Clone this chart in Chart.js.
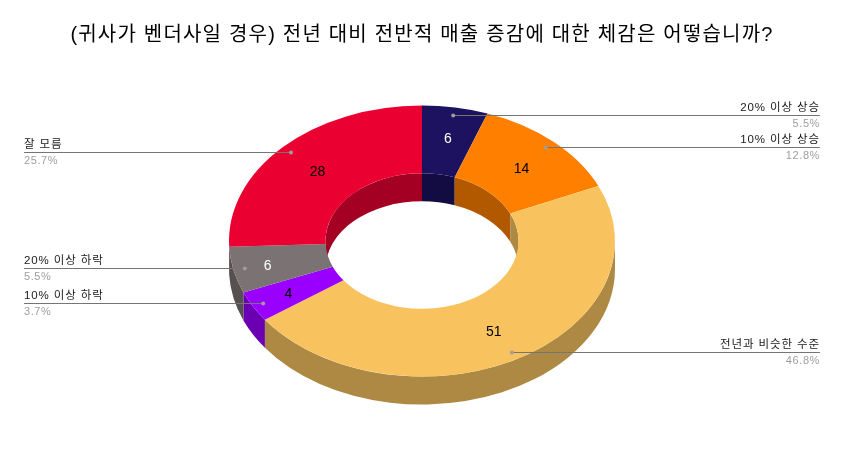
<!DOCTYPE html>
<html>
<head>
<meta charset="utf-8">
<style>
  html, body { margin: 0; padding: 0; background: #fff; }
  canvas { display: block; }
</style>
<script src="https://cdn.jsdelivr.net/npm/chart.js@4/dist/chart.umd.min.js"></script>
</head>
<body>
<canvas id="chart" width="844" height="472"></canvas>
<script>
const titleText = '(귀사가 벤더사일 경우) 전년 대비 전반적 매출 증감에 대한 체감은 어떻습니까?';
const categories = ['20% 이상 상승', '10% 이상 상승', '전년과 비슷한 수준', '10% 이상 하락', '20% 이상 하락', '잘 모름'];
const responses = [6, 14, 51, 4, 6, 28];
const sliceColors = ['#1c1260', '#ff7f00', '#f8c35f', '#9900ff', '#7b7373', '#eb0032'];
const wallColors = ['#130c43', '#b25900', '#ae8943', '#6b00b3', '#565050', '#a40023'];
const valueColors = ['#fff', '#000', '#000', '#000', '#fff', '#000'];
// 값 글자 위치 미세 조정 [x, y]
const valueNudges = [[1, -2], [1, 3], [0, 3], [-7, 4], [-13, 3], [0, 1]];

const FONT = '"Liberation Sans", "Noto Sans CJK KR", sans-serif';
const CENTER_Y = 241;
const RADIUS = 193;
const TILT = 0.702;
const DEPTH = 28;

// 납작한 타원으로 보이도록 y 좌표 변환
function flatY(y, arc) {
    return CENTER_Y + (y - arc.y) * TILT;
}

function drawWall(ctx, arc, r, color, from, to) {
    const a = Math.max(arc.startAngle, from);
    const b = Math.min(arc.endAngle, to);
    if (b <= a) return;
    ctx.beginPath();
    ctx.ellipse(arc.x, CENTER_Y, r, r * TILT, 0, a, b, false);
    ctx.ellipse(arc.x, CENTER_Y + DEPTH, r, r * TILT, 0, b, a, true);
    ctx.closePath();
    ctx.fillStyle = color;
    ctx.fill();
}

const pie3d = {
    id: 'pie3d',
    beforeDraw(chart) {
        chart.ctx.letterSpacing = '1.2px';
    },
    beforeDatasetsDraw(chart) {
        const ctx = chart.ctx;
        ctx.letterSpacing = '0px';
        const arcs = chart.getDatasetMeta(0).data;
        arcs.forEach((arc, i) => {
            // 바깥 벽은 아래쪽, 안쪽 벽은 위쪽만 보인다
            drawWall(ctx, arc, arc.outerRadius, wallColors[i], 0, Math.PI);
            drawWall(ctx, arc, arc.innerRadius, wallColors[i], -Math.PI, 0);
            drawWall(ctx, arc, arc.innerRadius, wallColors[i], Math.PI, 2 * Math.PI);
        });
        ctx.save();
        ctx.translate(0, CENTER_Y);
        ctx.scale(1, TILT);
        ctx.translate(0, -arcs[0].y);
    },
    afterDatasetsDraw(chart) {
        const ctx = chart.ctx;
        ctx.restore();
        const total = responses.reduce((s, v) => s + v, 0);
        chart.getDatasetMeta(0).data.forEach((arc, i) => {
            const mid = (arc.startAngle + arc.endAngle) / 2;
            const center = arc.getCenterPoint();

            // 조각 안의 값
            ctx.font = '14px ' + FONT;
            ctx.textAlign = 'center';
            ctx.textBaseline = 'middle';
            ctx.fillStyle = valueColors[i];
            ctx.fillText(responses[i], center.x + valueNudges[i][0], flatY(center.y, arc) + valueNudges[i][1]);

            // 지시선
            const dotX = arc.x + Math.cos(mid) * arc.outerRadius * 0.94;
            const rawY = flatY(arc.y + Math.sin(mid) * arc.outerRadius * 0.94, arc);
            const dotY = rawY < CENTER_Y ? Math.floor(rawY) : Math.round(rawY);
            const left = dotX < arc.x;
            const endX = left ? 24 : 820;
            ctx.strokeStyle = '#757575';
            ctx.lineWidth = 1;
            ctx.beginPath();
            ctx.moveTo(dotX, dotY + 0.5);
            ctx.lineTo(endX, dotY + 0.5);
            ctx.stroke();
            ctx.fillStyle = '#9e9e9e';
            ctx.beginPath();
            ctx.arc(dotX, dotY + 0.5, 2, 0, 2 * Math.PI);
            ctx.fill();

            // 범주 이름과 비율
            ctx.textBaseline = 'alphabetic';
            ctx.textAlign = left ? 'left' : 'right';
            const textX = left ? 24 : 820;
            ctx.font = '11.5px ' + FONT;
            ctx.letterSpacing = '0.9px';
            ctx.fillStyle = '#1a1a1a';
            ctx.fillText(categories[i], textX, dotY - 4);
            ctx.font = '11px ' + FONT;
            ctx.letterSpacing = '0.6px';
            ctx.fillStyle = '#9e9e9e';
            ctx.fillText((responses[i] / total * 100).toFixed(1) + '%', textX, dotY + 12);
            ctx.letterSpacing = '0px';
        });
    }
};

new Chart(document.getElementById('chart'), {
    type: 'doughnut',
    data: {
        labels: categories,
        datasets: [{
            data: responses,
            backgroundColor: sliceColors,
            borderWidth: 0,
            clip: false
        }]
    },
    options: {
        responsive: false,
        animation: false,
        events: [],
        radius: RADIUS,
        cutout: '50%',
        plugins: {
            legend: { display: false },
            tooltip: { enabled: false },
            title: {
                display: true,
                text: titleText,
                color: '#000',
                font: { family: FONT, size: 20, weight: 'normal' },
                padding: { top: 23, bottom: 10 }
            }
        }
    },
    plugins: [pie3d]
});
</script>
</body>
</html>
